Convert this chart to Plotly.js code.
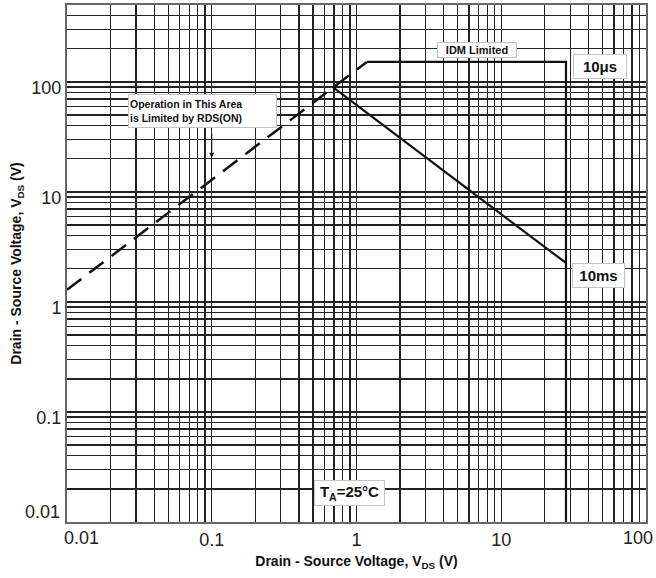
<!DOCTYPE html>
<html><head><meta charset="utf-8">
<script src="https://cdn.plot.ly/plotly-3.0.1.min.js"></script>
<style>html,body{margin:0;padding:0;background:#fff}#chart{width:656px;height:578px}</style>
</head><body><div id="chart"></div>
<script>
// Axis decades and their labels
const xDecades = [0.01, 0.1, 1, 10, 100];
const xDecadeLabels = ['0.01', '0.1', '1', '10', '100'];
const yDecades = [0.01, 0.1, 1, 10, 100];
const yDecadeLabels = ['0.01', '0.1', '1', '10', '100'];
const xMax = 100, yMax = 500;

// Curves
const rdsX = [0.01, 1.18];          // RDS(ON) limit (dashed)
const rdsY = [1.29, 152];
const us10X = [1.18, 28, 28];       // 10us / IDM limit
const us10Y = [152, 152, 0.01];
const ms10X = [0.69, 28];           // 10ms
const ms10Y = [89, 2.26];

function gridVals(decades, max, labels) {
  const v = [], t = [];
  decades.forEach((d, i) => {
    for (let m = 1; m <= 9; m++) {
      const val = d * m;
      if (val > max * 1.0001) break;
      v.push(val);
      t.push(m === 1 ? labels[i] : '');
    }
  });
  return {v, t};
}
const gx = gridVals(xDecades, xMax, xDecadeLabels);
const gy = gridVals(yDecades, yMax, yDecadeLabels);
// end labels are drawn as annotations (shifted inward like the reference)
gx.t[0] = ''; gx.t[gx.t.length - 1] = '';
gy.t[0] = '';

const FONT = '"Liberation Sans", Arial, sans-serif';
const line = {color: '#111', width: 2.2};

const traces = [
  {x: rdsX, y: rdsY, mode: 'lines', line: {color: '#111', width: 2.5, dash: '18px,10px'}, hoverinfo: 'skip'},
  {x: us10X, y: us10Y, mode: 'lines', line: line, hoverinfo: 'skip'},
  {x: ms10X, y: ms10Y, mode: 'lines', line: line, hoverinfo: 'skip'}
];

const boxStyle = {bgcolor: '#fff', bordercolor: '#c4c4c4', borderwidth: 1, borderpad: 1, showarrow: false, xref: 'x', yref: 'y'};
const L = Math.log10;

const annotations = [
  Object.assign({}, boxStyle, {x: -1.064, y: 1.736, text: '<b>Operation in This Area<br>is Limited by RDS(ON)</b>',
    font: {family: FONT, size: 10.5, color: '#111'}, width: 145, height: 30, align: 'left'}),
  {x: L(0.1), y: L(20.4), xref: 'x', yref: 'y', text: '', showarrow: true, ax: 0, ay: -26,
    arrowhead: 2, arrowsize: 1, arrowwidth: 1, arrowcolor: '#111'},
  Object.assign({}, boxStyle, {x: 0.832, y: 2.291, text: '<b>IDM Limited</b>',
    font: {family: FONT, size: 11, color: '#111'}, width: 76, height: 12}),
  Object.assign({}, boxStyle, {x: 1.682, y: 2.141, text: '<b>10\u03bcs</b>',
    font: {family: FONT, size: 15, color: '#111'}, width: 50, height: 21}),
  Object.assign({}, boxStyle, {x: 1.672, y: 0.241, text: '<b>10ms</b>',
    font: {family: FONT, size: 15, color: '#111'}, width: 49, height: 21}),
  Object.assign({}, boxStyle, {x: -0.048, y: -1.736, text: '<b>T<sub>A</sub>=25°C</b>',
    font: {family: FONT, size: 15, color: '#111'}, width: 67, height: 22}),
  // end tick labels
  {x: L(xDecades[0]), y: 0, xref: 'x', yref: 'paper', text: xDecadeLabels[0], showarrow: false,
    xanchor: 'left', yanchor: 'top', xshift: -5, yshift: -4, font: {family: FONT, size: 18, color: '#222'}},
  {x: L(xDecades[4]), y: 0, xref: 'x', yref: 'paper', text: xDecadeLabels[4], showarrow: false,
    xanchor: 'right', yanchor: 'top', xshift: 9, yshift: -4, font: {family: FONT, size: 18, color: '#222'}},
  {x: 0, y: L(yDecades[0]), xref: 'paper', yref: 'y', text: yDecadeLabels[0], showarrow: false,
    xanchor: 'right', yanchor: 'middle', xshift: -5, yshift: 10, font: {family: FONT, size: 18, color: '#222'}}
];

const axisCommon = {
  type: 'log', tickmode: 'array', showgrid: true, gridcolor: '#222', gridwidth: 1.3,
  showline: true, linecolor: '#666', linewidth: 2, mirror: true, ticks: '', zeroline: false,
  tickangle: 0, tickfont: {family: FONT, size: 18, color: '#222'}
};

const layout = {
  width: 656, height: 578,
  margin: {l: 67, r: 10, t: 5, b: 56},
  paper_bgcolor: '#fff', plot_bgcolor: '#fff',
  showlegend: false,
  font: {family: FONT},
  xaxis: Object.assign({}, axisCommon, {range: [L(0.01), L(xMax)], tickvals: gx.v, ticktext: gx.t,
    title: {text: '<b>Drain - Source Voltage, V<sub>DS</sub> (V)</b>', font: {family: FONT, size: 14, color: '#111'}, standoff: 8}}),
  yaxis: Object.assign({}, axisCommon, {range: [L(0.01), L(yMax)], tickvals: gy.v, ticktext: gy.t, ticklabelshift: 6,
    title: {text: '<b>Drain - Source Voltage, V<sub>DS</sub> (V)</b>', font: {family: FONT, size: 14, color: '#111'}, standoff: 6}}),
  annotations: annotations
};

Plotly.newPlot('chart', traces, layout, {displayModeBar: false, staticPlot: true});
</script></body></html>
